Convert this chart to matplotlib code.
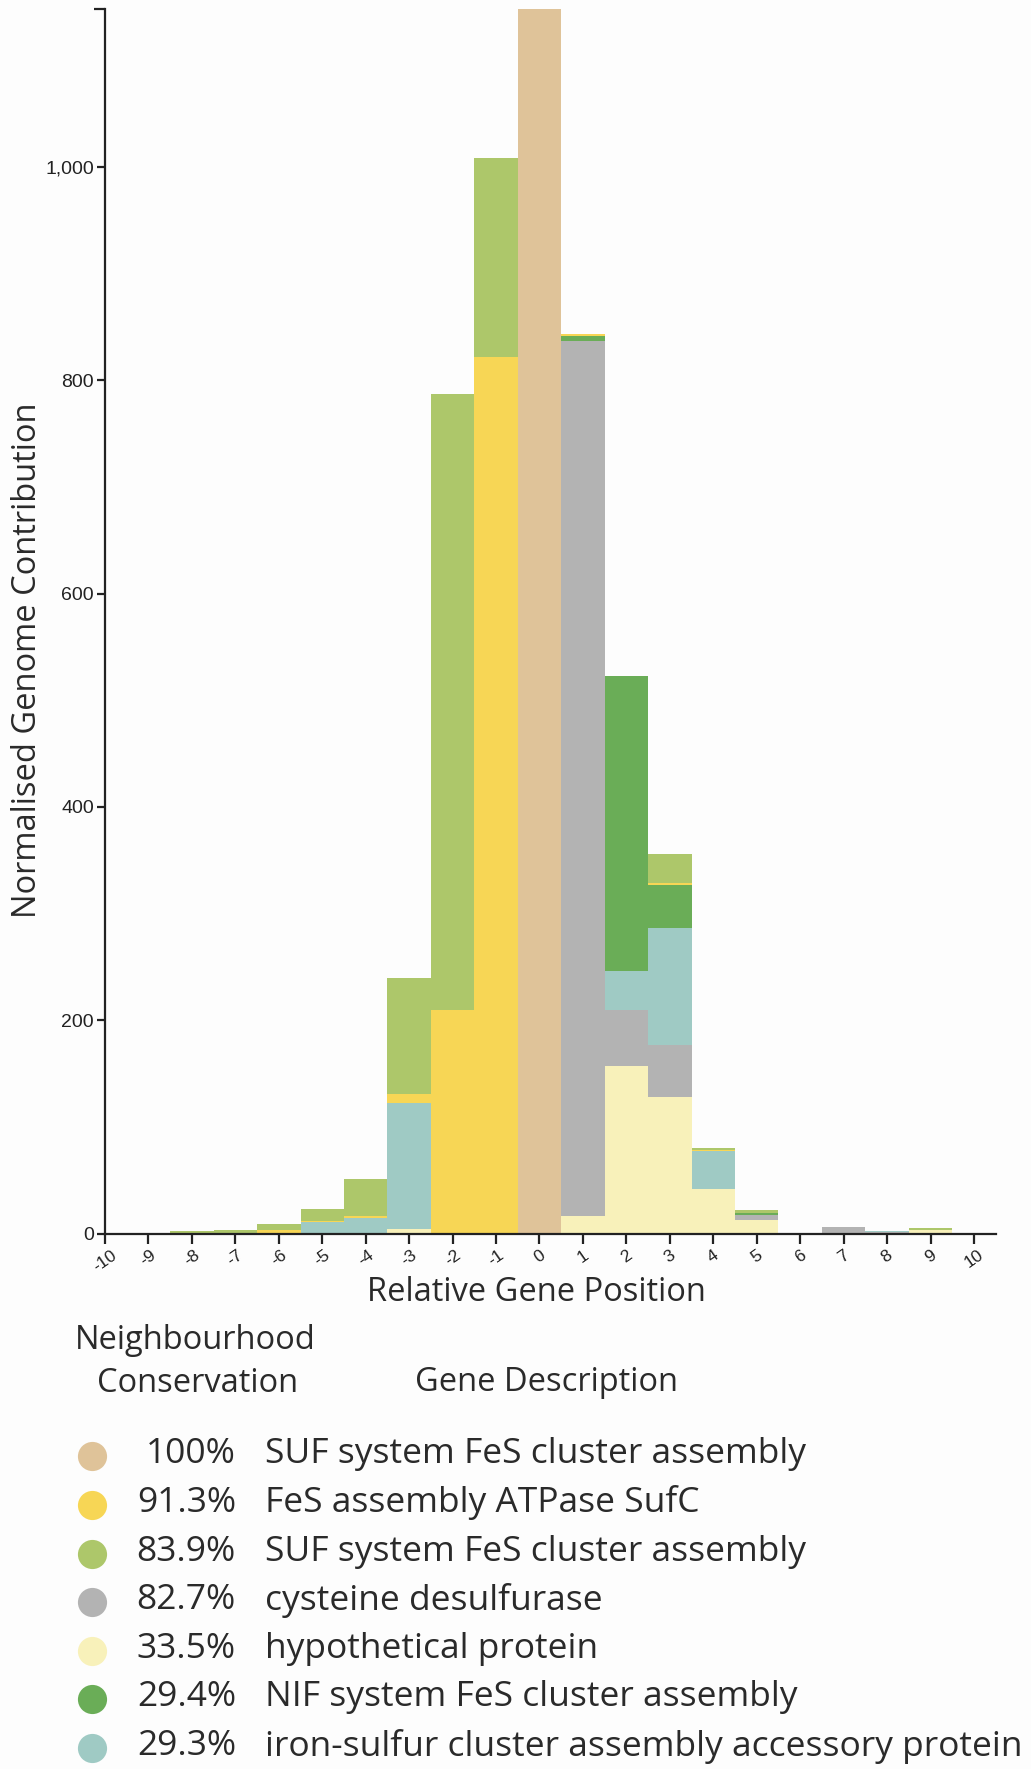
import numpy as np
import matplotlib
matplotlib.use("Agg")
import matplotlib.pyplot as plt
from matplotlib.lines import Line2D

# Relative gene positions around the anchor gene
positions = list(range(-10, 11))
tick_labels = [str(p) for p in positions]

# Normalised genome contribution per gene family at each position (stacked bottom -> top)
hypothetical = [0, 0, 0, 0, 0, 0, 0, 4, 0, 0, 0, 16, 157, 128, 42, 13, 0, 0, 0, 3, 0]
cysteine_desulfurase = [0, 0, 0, 0, 0, 0, 0, 0, 0, 0, 0, 821, 53, 49, 0, 4.5, 0, 6.5, 1, 0, 0]
accessory_protein = [0, 0, 0, 0, 0, 10.5, 14.8, 118, 0, 0, 0, 0, 36, 109, 35, 0, 0, 0, 1, 0, 0]
nif_system = [0, 0, 0, 0, 0, 0, 0, 0, 0, 0, 0, 4, 277, 41, 0, 2, 0, 0, 0, 0, 0]
sufc_atpase = [0, 0, 0, 0, 3, 1.3, 2, 9, 210, 822, 0, 2.5, 0, 1.5, 1.5, 0, 0, 0, 0, 0, 0]
suf_system_b = [0, 0, 2.2, 3.7, 5.7, 11.2, 34, 109, 577, 186, 0, 0, 0, 27, 1.5, 2.5, 0, 0, 0, 2.5, 0]
suf_system_a = [0, 0, 0, 0, 0, 0, 0, 0, 0, 0, 1148, 0, 0, 0, 0, 0, 0, 0, 0, 0, 0]

conservation = ["100%", "91.3%", "83.9%", "82.7%", "33.5%", "29.4%", "29.3%"]
descriptions = [
    "SUF system FeS cluster assembly",
    "FeS assembly ATPase SufC",
    "SUF system FeS cluster assembly",
    "cysteine desulfurase",
    "hypothetical protein",
    "NIF system FeS cluster assembly",
    "iron-sulfur cluster assembly accessory protein",
]
legend_colors = ["#dfc399", "#f7d655", "#adc76a", "#b3b3b3", "#f8f1ba", "#6aad57", "#9fcac4"]

# stacking order from the axis upwards
stack = [
    (hypothetical, "#f8f1ba"),
    (cysteine_desulfurase, "#b3b3b3"),
    (accessory_protein, "#9fcac4"),
    (nif_system, "#6aad57"),
    (sufc_atpase, "#f7d655"),
    (suf_system_b, "#adc76a"),
    (suf_system_a, "#dfc399"),
]

W, H = 1031, 1769
fig = plt.figure(figsize=(W / 100, H / 100), dpi=100)
fig.patch.set_facecolor("#fdfdfd")
ax = fig.add_axes([105 / W, 1 - 1233.5 / H, 890.7 / W, 1224.5 / H])
ax.set_facecolor("none")

x = np.array(positions, dtype=float)
bottom = np.zeros(len(positions))
for values, color in stack:
    v = np.array(values, dtype=float)
    ax.bar(x, v, width=1.0, bottom=bottom, color=color, linewidth=0, zorder=2)
    bottom += v

ymax = 1148
ax.set_xlim(-10, 10.5)
ax.set_ylim(0, ymax)

for side in ("top", "right"):
    ax.spines[side].set_visible(False)
for side in ("left", "bottom"):
    ax.spines[side].set_linewidth(1.6)
    ax.spines[side].set_color("#222222")
    ax.spines[side].set_zorder(5)

ax.set_yticks([0, 200, 400, 600, 800, 1000])
ax.set_yticklabels(["0", "200", "400", "600", "800", "1,000"],
                   fontfamily="Liberation Sans", fontsize=14, color="#222222")
ax.tick_params(axis="y", length=6, width=1.6, color="#222222", pad=2)

ax.set_xticks(positions)
ax.set_xticklabels(tick_labels, fontfamily="Liberation Sans", fontsize=12.5,
                   color="#222222", rotation=35, ha="center")
ax.tick_params(axis="x", length=7, width=1.6, color="#222222", pad=3)

# outer tick at the top of the value axis
ax.plot([-10.25, -10], [ymax, ymax], color="#222222", lw=1.6, clip_on=False,
        solid_capstyle="butt", zorder=6)

label_font = "Open Sans"
txt = "#2a2a2a"
fig.text(536 / W, 1 - 1292 / H, "Relative Gene Position", fontfamily=label_font,
         fontsize=23.5, color=txt, ha="center", va="center")
fig.text(28 / W, 1 - 660 / H, "Normalised Genome Contribution", fontfamily=label_font,
         fontsize=23.5, color=txt, ha="center", va="center", rotation=90)

fig.text(75 / W, 1 - 1340 / H, "Neighbourhood", fontfamily=label_font,
         fontsize=23.5, color=txt, ha="left", va="center")
fig.text(97 / W, 1 - 1384 / H, "Conservation", fontfamily=label_font,
         fontsize=23.5, color=txt, ha="left", va="center")
fig.text(415 / W, 1 - 1382 / H, "Gene Description", fontfamily=label_font,
         fontsize=23.5, color=txt, ha="left", va="center")

row_y = [1454, 1503, 1552, 1600, 1649, 1697, 1746]
for yy, pct, desc, col in zip(row_y, conservation, descriptions, legend_colors):
    fy = 1 - yy / H
    fig.add_artist(Line2D([92 / W], [fy - 2 / H], marker="o", markersize=21, color=col,
                          markeredgewidth=0, linestyle="none", transform=fig.transFigure))
    fig.text(236 / W, fy, pct, fontfamily=label_font, fontsize=25.5, color=txt,
             ha="right", va="center")
    fig.text(265 / W, fy, desc, fontfamily=label_font, fontsize=25.5, color=txt,
             ha="left", va="center")

fig.savefig("out.png", dpi=100, facecolor=fig.get_facecolor())
